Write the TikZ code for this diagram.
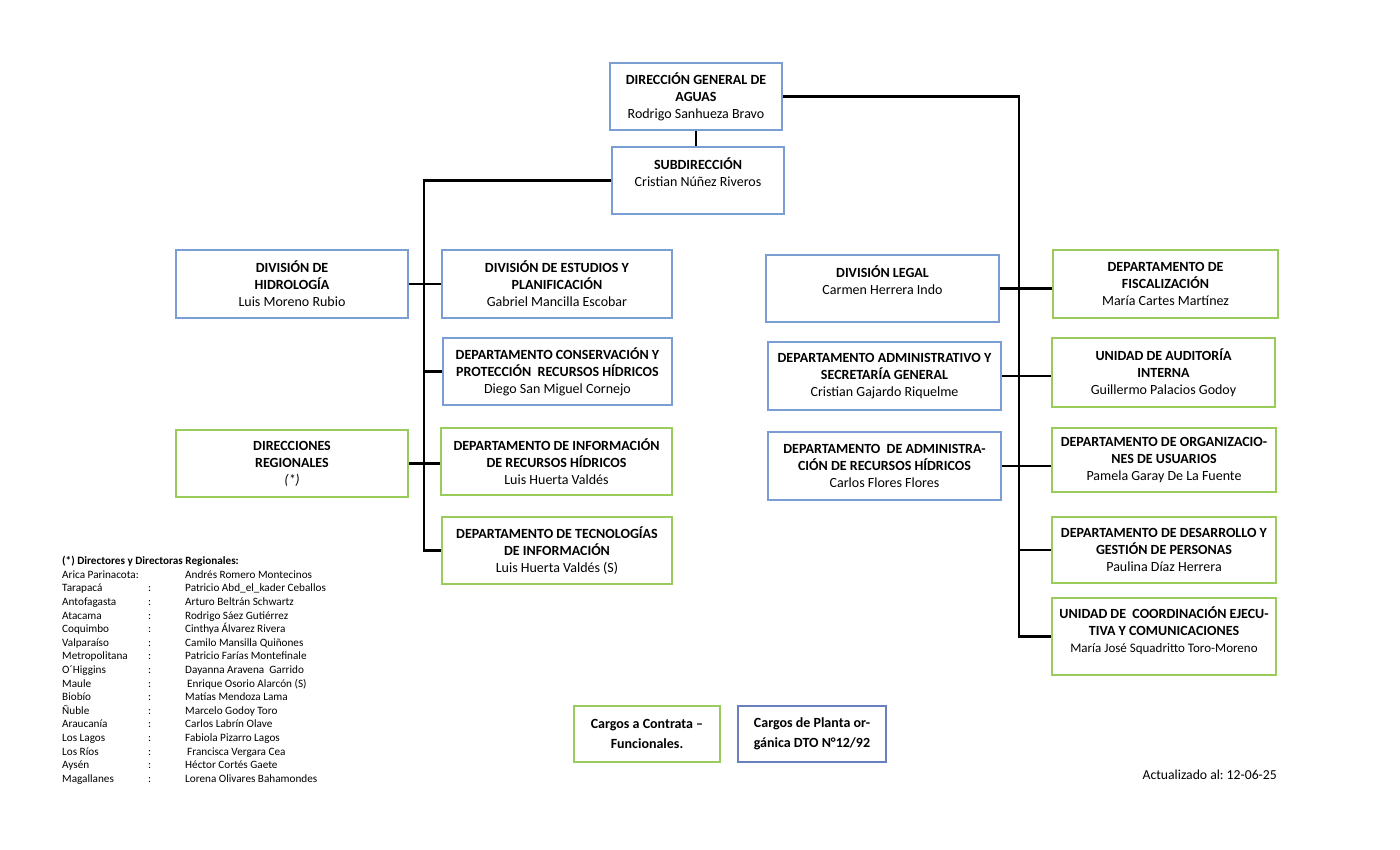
\documentclass[tikz,border=0pt]{standalone}
\usepackage{fontspec}
\setmainfont{Carlito}
\usepackage{array}
\frenchspacing
\definecolor{blueC}{RGB}{122,158,212}
\definecolor{greenC}{RGB}{154,204,92}
\definecolor{blueL}{RGB}{104,128,190}
\begin{document}
\begin{tikzpicture}[x=1pt,y=-1pt,
  box/.style={draw=blueC, line width=2.8pt, align=center, inner sep=0pt,
    font=\fontsize{14}{17}\selectfont},
  gbox/.style={box, draw=greenC},
  conn/.style={line width=2.2pt, black}]
\useasboundingbox (0,0) rectangle (1400,850);
% boxes
\node[box, minimum width=172pt, minimum height=67pt] (dga) at (696,96.5)
  {\textbf{DIRECCIÓN GENERAL DE}\\\textbf{AGUAS}\\Rodrigo Sanhueza Bravo};
\node[box, minimum width=172pt, minimum height=67pt] (sub) at (698,180.5)
  {\textbf{SUBDIRECCIÓN}\\Cristian Núñez Riveros\\\mbox{}};
\node[box, minimum width=232pt, minimum height=68pt] (hid) at (292,284)
  {\textbf{DIVISIÓN DE}\\\textbf{HIDROLOGÍA}\\Luis Moreno Rubio};
\node[box, minimum width=230pt, minimum height=68pt] (est) at (557,284)
  {\textbf{DIVISIÓN DE ESTUDIOS Y}\\\textbf{PLANIFICACIÓN}\\Gabriel Mancilla Escobar};
\node[box, minimum width=229pt, minimum height=67pt] (con) at (557.5,371.5)
  {\textbf{DEPARTAMENTO CONSERVACIÓN Y}\\\textbf{PROTECCIÓN\ \ RECURSOS HÍDRICOS}\\Diego San Miguel Cornejo};
\node[gbox, minimum width=232pt, minimum height=67pt] (reg) at (292,463.5)
  {\textbf{DIRECCIONES}\\\textbf{REGIONALES}\\\textit{(*)}};
\node[gbox, minimum width=231pt, minimum height=67pt] (inf) at (556.5,461.5)
  {\textbf{DEPARTAMENTO DE INFORMACIÓN}\\\textbf{DE RECURSOS HÍDRICOS}\\Luis Huerta Valdés};
\node[gbox, minimum width=230pt, minimum height=67pt] (tec) at (557,550.5)
  {\textbf{DEPARTAMENTO DE TECNOLOGÍAS}\\\textbf{DE INFORMACIÓN}\\Luis Huerta Valdés (S)};
\node[box, minimum width=233pt, minimum height=67pt] (leg) at (882.5,288.5)
  {\textbf{DIVISIÓN LEGAL}\\Carmen Herrera Indo\\\mbox{}};
\node[gbox, minimum width=225pt, minimum height=68pt] (fis) at (1165.5,284)
  {\textbf{DEPARTAMENTO DE}\\\textbf{FISCALIZACIÓN}\\María Cartes Martínez};
\node[box, minimum width=233pt, minimum height=68pt] (adm) at (884.5,376)
  {\textbf{DEPARTAMENTO ADMINISTRATIVO Y}\\\textbf{SECRETARÍA GENERAL}\\Cristian Gajardo Riquelme};
\node[gbox, minimum width=223pt, minimum height=69pt] (aud) at (1163.5,372.5)
  {\textbf{UNIDAD DE AUDITORÍA}\\\textbf{INTERNA}\\Guillermo Palacios Godoy};
\node[box, minimum width=233pt, minimum height=68pt] (arh) at (884.5,466)
  {\textbf{DEPARTAMENTO\ \ DE ADMINISTRA-}\\\textbf{CIÓN DE RECURSOS HÍDRICOS}\\Carlos Flores Flores};
\node[gbox, minimum width=224pt, minimum height=64pt] (org) at (1164,460)
  {\textbf{DEPARTAMENTO DE ORGANIZACIO-}\\\textbf{NES DE USUARIOS}\\Pamela Garay De La Fuente};
\node[gbox, minimum width=224pt, minimum height=66pt] (des) at (1164,550)
  {\textbf{DEPARTAMENTO DE DESARROLLO Y}\\\textbf{GESTIÓN DE PERSONAS}\\Paulina Díaz Herrera};
\node[gbox, minimum width=224pt, minimum height=77pt] (coo) at (1164,636.5)
  {\textbf{UNIDAD DE\ \ COORDINACIÓN EJECU-}\\\textbf{TIVA Y COMUNICACIONES}\\{\fontsize{13}{17}\selectfont María José Squadritto Toro-Moreno}\\[-4pt]\mbox{}};
% legend
\node[gbox, minimum width=146pt, minimum height=56pt,
  font=\fontsize{14}{20}\selectfont\bfseries] (lg) at (647,734)
  {Cargos a Contrata –\\Funcionales.};
\node[box, draw=blueL, minimum width=148pt, minimum height=56pt,
  font=\fontsize{14}{20}\selectfont\bfseries] (lb) at (812,734)
  {Cargos de Planta or-\\gánica DTO N°12/92};
% connectors
\coordinate (rt) at (1019,0);
\coordinate (lt) at (424,0);
\draw[conn] (dga.south) -- (dga.south |- sub.north);
\draw[conn] (dga.east) -| (rt |- coo.west) -- (coo.west);
\draw[conn] (leg.east) -- (leg.east -| fis.west);
\draw[conn] (adm.east) -- (adm.east -| aud.west);
\draw[conn] (arh.east) -- (arh.east -| org.west);
\draw[conn] (rt |- des.west) -- (des.west);
\draw[conn] (sub.west) -| (lt |- tec.west) -- (tec.west);
\draw[conn] (hid.east) -- (est.west);
\draw[conn] (lt |- con.west) -- (con.west);
\draw[conn] (reg.east) -- (reg.east -| inf.west);
% directors list
\node[anchor=north west, inner sep=0pt, font=\fontsize{11.2}{13.6}\selectfont] (dir) at (62,555)
  {\begin{tabular}{@{}p{86pt}@{}p{37pt}@{}l@{}}
  \multicolumn{3}{@{}l@{}}{\textbf{(*) Directores y Directoras Regionales:}}\\
  Arica Parinacota: & & Andrés Romero Montecinos\\
  Tarapacá & : & Patricio Abd\_el\_kader Ceballos\\
  Antofagasta & : & Arturo Beltrán Schwartz\\
  Atacama & : & Rodrigo Sáez Gutiérrez\\
  Coquimbo & : & Cinthya Álvarez Rivera\\
  Valparaíso & : & Camilo Mansilla Quiñones\\
  Metropolitana & : & Patricio Farías Montefinale\\
  O´Higgins & : & Dayanna Aravena\ \ Garrido\\
  Maule & : & \hspace{2pt}Enrique Osorio Alarcón (S)\\
  Biobío & : & Matías Mendoza Lama\\
  Ñuble & : & Marcelo Godoy Toro\\
  Araucanía & : & Carlos Labrín Olave\\
  Los Lagos & : & Fabiola Pizarro Lagos\\
  Los Ríos & : & \hspace{2pt}Francisca Vergara Cea\\
  Aysén & : & Héctor Cortés Gaete\\
  Magallanes & : & Lorena Olivares Bahamondes
  \end{tabular}};
\node[anchor=east, inner sep=0pt, font=\fontsize{13.7}{16}\selectfont] (upd) at (1277,775)
  {Actualizado al: 12-06-25};
\end{tikzpicture}
\end{document}
